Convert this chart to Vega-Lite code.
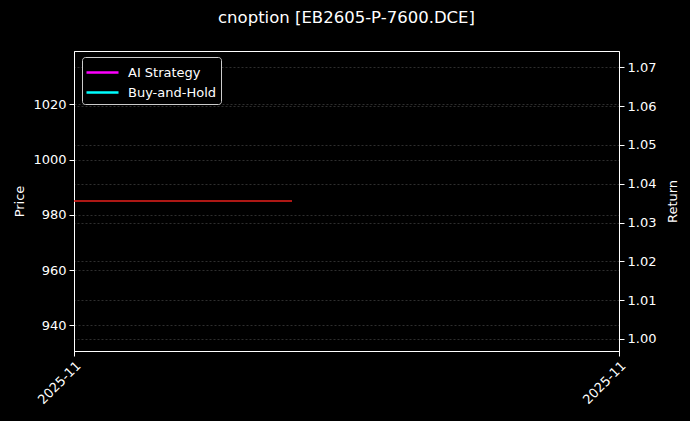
{
  "$schema": "https://vega.github.io/schema/vega-lite/v6.json",
  "autosize": {"type": "none"},
  "width": 545,
  "height": 300,
  "padding": {"left": 74, "top": 51, "right": 71, "bottom": 70},
  "background": "#000000",
  "title": {
    "text": "cnoption [EB2605-P-7600.DCE]",
    "color": "white",
    "font": "DejaVu Sans",
    "fontSize": 16.5,
    "fontWeight": "normal",
    "anchor": "middle",
    "offset": 25
  },
  "datasets": {
    "price": [
      {"date": "2025-11-03", "price": 985},
      {"date": "2025-11-05", "price": 985}
    ],
    "returns": [
      {"date": "2025-11-03", "series": "AI Strategy", "value": null},
      {"date": "2025-11-03", "series": "Buy-and-Hold", "value": null}
    ]
  },
  "layer": [
    {
      "data": {"name": "price"},
      "mark": {"type": "line", "color": "#e8201c", "strokeWidth": 1.3},
      "encoding": {
        "x": {
          "field": "date",
          "type": "temporal",
          "scale": {"domain": ["2025-11-03", "2025-11-08"]},
          "axis": {
            "title": null,
            "values": ["2025-11-03", "2025-11-08"],
            "format": "%Y-%m",
            "labelAngle": -45,
            "labelAlign": "right",
            "labelBaseline": "top",
            "grid": false
          }
        },
        "y": {
          "field": "price",
          "type": "quantitative",
          "scale": {"domain": [930.7, 1039.3], "nice": false, "zero": false},
          "axis": {
            "title": "Price",
            "values": [940, 960, 980, 1000, 1020],
            "format": "d",
            "orient": "left",
            "titlePadding": 6
          }
        }
      }
    },
    {
      "data": {"name": "returns"},
      "mark": {"type": "line", "strokeWidth": 2},
      "encoding": {
        "x": {"field": "date", "type": "temporal"},
        "y": {
          "field": "value",
          "type": "quantitative",
          "scale": {"domain": [0.9969, 1.0742], "nice": false, "zero": false},
          "axis": {
            "title": "Return",
            "orient": "right",
            "grid": true,
            "values": [1.0, 1.01, 1.02, 1.03, 1.04, 1.05, 1.06, 1.07],
            "format": ".2f",
            "titleAngle": 270,
            "titleX": 53,
            "titleY": 150,
            "titleAlign": "center",
            "titleBaseline": "middle"
          }
        },
        "color": {
          "field": "series",
          "type": "nominal",
          "scale": {"domain": ["AI Strategy", "Buy-and-Hold"], "range": ["#ff00ff", "#00ffff"]},
          "legend": {
            "title": null,
            "orient": "none",
            "legendX": 8,
            "legendY": 6,
            "symbolType": "M-1.6,0H1.6",
            "symbolStrokeWidth": 2.5,
            "symbolSize": 400,
            "symbolOffset": 5,
            "labelColor": "white",
            "labelFontSize": 13,
            "labelFont": "DejaVu Sans",
            "labelOffset": 14,
            "strokeColor": "#cccccc",
            "fillColor": "#000000",
            "cornerRadius": 3,
            "padding": 4,
            "rowPadding": 1
          }
        }
      }
    }
  ],
  "resolve": {"scale": {"y": "independent"}},
  "config": {
    "view": {"stroke": "white", "strokeWidth": 1},
    "axis": {
      "domainColor": "white",
      "tickColor": "white",
      "labelColor": "white",
      "titleColor": "white",
      "labelFont": "DejaVu Sans",
      "titleFont": "DejaVu Sans",
      "labelFontSize": 13,
      "titleFontSize": 13,
      "titleFontWeight": "normal",
      "tickSize": 5,
      "labelPadding": 3,
      "gridColor": "#3a3a3a",
      "gridDash": [2, 2],
      "gridWidth": 0.8
    }
  }
}
